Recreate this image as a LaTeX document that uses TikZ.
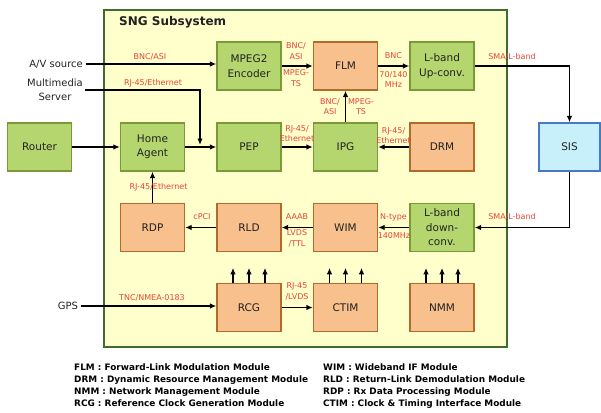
\documentclass[tikz,border=0pt]{standalone}
\usepackage{fontspec}
\setmainfont{DejaVu Sans}
\usetikzlibrary{arrows.meta}
\definecolor{bgyel}{HTML}{FFFFCC}
\definecolor{bgdraw}{HTML}{3F6B30}
\definecolor{gfill}{HTML}{B5D66E}
\definecolor{gdraw}{HTML}{7A9A38}
\definecolor{ofill}{HTML}{F8C08C}
\definecolor{odraw}{HTML}{B06A2A}
\definecolor{sfill}{HTML}{C8F0FA}
\definecolor{sdraw}{HTML}{4A78C8}
\definecolor{labred}{HTML}{E8443A}
\definecolor{txt}{HTML}{222222}
\tikzset{
  box/.style={draw, line width=1.3pt, minimum width=64pt, minimum height=48pt, inner sep=1pt, align=center, font=\fontsize{10.5}{14.5}\selectfont, text=txt},
  gbox/.style={box, fill=gfill, draw=gdraw},
  obox/.style={box, fill=ofill, draw=odraw},
  sbox/.style={box, fill=sfill, draw=sdraw, minimum width=61pt},
  lab/.style={text=labred, font=\fontsize{8}{10.5}\selectfont, align=center, inner sep=0pt},
  outer/.style={text=txt, font=\fontsize{10}{14.5}\selectfont, align=center, inner sep=2.5pt},
  conn/.style={line width=1.3pt, draw=black, -{Latex[length=6.5pt,width=5.5pt]}},
  leg/.style={font=\fontsize{8.9}{10}\selectfont\bfseries, text=black, anchor=base west, inner sep=0pt}
}
\begin{document}
\begin{tikzpicture}[x=1pt,y=-1pt]
\useasboundingbox (0,0) rectangle (601,412);
\draw[fill=bgyel, draw=bgdraw, line width=1.5pt] (104,10) rectangle (507,347);
\node[anchor=west, font=\fontsize{12}{14}\selectfont\bfseries, text=txt, inner sep=0pt] (title) at (119,22) {SNG Subsystem};

% boxes
\node[gbox] (mpeg) at (249,66) {MPEG2\\Encoder};
\node[obox] (flm) at (345.5,66) {FLM};
\node[gbox] (lup) at (442,66) {L-band\\Up-conv.};
\node[gbox] (router) at (39.5,147) {Router};
\node[gbox] (ha) at (152.5,147) {Home\\Agent};
\node[gbox] (pep) at (249,147) {PEP};
\node[gbox] (ipg) at (345.5,147) {IPG};
\node[obox] (drm) at (442,147) {DRM};
\node[sbox] (sis) at (569.5,147) {SIS};
\node[obox] (rdp) at (152.5,227.5) {RDP};
\node[obox] (rld) at (249,227.5) {RLD};
\node[obox] (wim) at (345.5,227.5) {WIM};
\node[gbox] (ldown) at (442,227.5) {L-band\\down-\\conv.};
\node[obox] (rcg) at (249,307.5) {RCG};
\node[obox] (ctim) at (345.5,307.5) {CTIM};
\node[obox] (nmm) at (442,307.5) {NMM};

% outside sources
\node[outer, anchor=east] (av) at (85.5,64) {A/V source};
\node[outer] (mms) at (55,90) {Multimedia\\Server};
\node[outer] (gps) at (68,306) {GPS};

% connectors
\draw[conn] (av.east) -- (av.east -| mpeg.west);
\coordinate (mj) at (200,145);
\draw[conn] (mms.east) -- (mms.east -| mj) -- (mj);
\draw[conn] (router) -- (ha);
\draw[conn] (ha) -- (pep);
\draw[conn] (rdp) -- (ha);
\draw[conn] (mpeg) -- (flm);
\draw[conn] (flm) -- (lup);
\draw[conn] (lup.east) -| (sis.north);
\draw[conn] (ipg) -- (flm);
\draw[conn] (pep) -- (ipg);
\draw[conn] (drm) -- (ipg);
\draw[conn] (sis.south) |- (ldown.east);
\draw[conn] (ldown) -- (wim);
\draw[conn] (wim) -- (rld);
\draw[conn] (rld) -- (rdp);
\draw[conn] (gps.east) -- (gps.east -| rcg.west);
\draw[conn] (rcg) -- (ctim);
\foreach \n in {rcg,ctim,nmm}{
  \foreach \s in {-16,0,16}{
    \draw[conn] ([xshift=\s pt]\n.north) -- ++(0,-15);
  }
}

% labels
\node[lab] (l1) at (150,57) {BNC/ASI};
\node[lab] (l2) at (153,83) {RJ-45/Ethernet};
\node[lab] (l3) at (158.5,187) {RJ-45/Ethernet};
\node[lab] (l4) at (296,51) {BNC/\\ASI};
\node[lab] (l5) at (296,78) {MPEG-\\TS};
\node[lab] (l6) at (393.5,56) {BNC};
\node[lab] (l7) at (393.5,79.5) {70/140\\MHz};
\node[lab] (l8) at (512,57) {SMA/L-band};
\node[lab] (l9) at (330,106.5) {BNC/\\ASI};
\node[lab] (l10) at (361,106.5) {MPEG-\\TS};
\node[lab] (l11) at (297,133.5) {RJ-45/\\Ethernet};
\node[lab] (l12) at (393.5,135.5) {RJ-45/\\Ethernet};
\node[lab] (l13) at (512,217) {SMA/L-band};
\node[lab] (l14) at (393.5,217) {N-type};
\node[lab] (l15) at (394,236) {140MHz};
\node[lab] (l16) at (297,217) {AAAB};
\node[lab] (l17) at (297,238.5) {LVDS\\/TTL};
\node[lab] (l18) at (202,217) {cPCI};
\node[lab] (l19) at (152,298) {TNC/NMEA-0183};
\node[lab] (l20) at (297,291.5) {RJ-45\\/LVDS};

% legend
\node[leg] (g1) at (74,370) {FLM : Forward-Link Modulation Module};
\node[leg] (g2) at (74,382.2) {DRM : Dynamic Resource Management Module};
\node[leg] (g3) at (74,394.4) {NMM : Network Management Module};
\node[leg] (g4) at (74,406.6) {RCG : Reference Clock Generation Module};
\node[leg] (g5) at (323,370) {WIM : Wideband IF Module};
\node[leg] (g6) at (323,382.2) {RLD : Return-Link Demodulation Module};
\node[leg] (g7) at (323,394.4) {RDP : Rx Data Processing Module};
\node[leg] (g8) at (323,406.6) {CTIM : Clock \& Timing Interface Module};
\end{tikzpicture}
\end{document}
